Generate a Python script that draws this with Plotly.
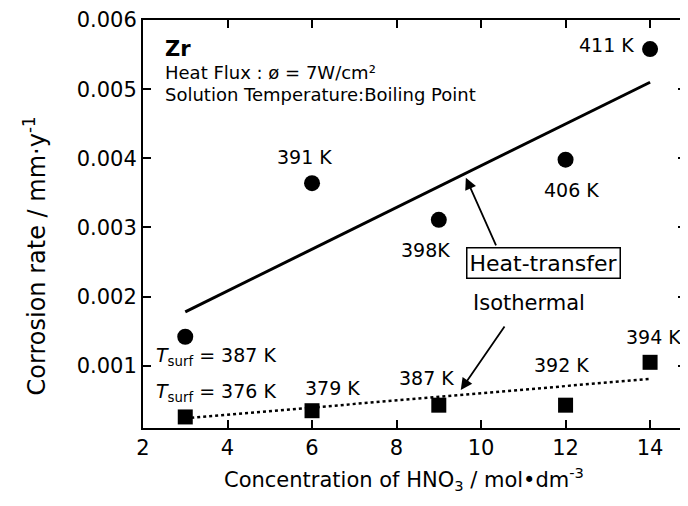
import plotly.graph_objects as go

# heat-transfer (circles) and isothermal (squares) data
conc = [3, 6, 9, 12, 14]
rate_heat = [0.00142, 0.00364, 0.00311, 0.00398, 0.00558]
rate_iso = [0.00026, 0.00035, 0.00043, 0.00043, 0.00105]

fit_x = [3, 14]
fit_heat = [0.00178, 0.0051]
fit_iso = [0.00024, 0.00081]

heat_labels = ["", "391 K", "398K", "406 K", "411 K"]
iso_labels = ["", "379 K", "387 K", "392 K", "394 K"]

# page has an 8px body margin, so the figure is a bit smaller than the window
W, H = 680, 490
L, R, T, B = 135, 0, 12, 70
FONT = "DejaVu Sans"


def px(xp):
    # page pixel -> paper x
    return (xp - 143) / 545


def py(yp):
    # page pixel -> paper y
    return (428 - yp) / 408


fig = go.Figure()

fig.add_trace(go.Scatter(x=fit_x, y=fit_heat, mode='lines',
                         line=dict(color='black', width=3)))
fig.add_trace(go.Scatter(x=fit_x, y=fit_iso, mode='lines',
                         line=dict(color='black', width=2.5, dash='dot')))
fig.add_trace(go.Scatter(x=conc, y=rate_heat, mode='markers',
                         marker=dict(symbol='circle', size=16, color='black')))
fig.add_trace(go.Scatter(x=conc, y=rate_iso, mode='markers',
                         marker=dict(symbol='square', size=15, color='black')))

# point labels (offsets in px)
heat_shift = [(0, 0), (-8, 26), (-13, -30), (6, -30), (-44, 4)]
iso_shift = [(0, 0), (20, 23), (-12, 27), (-4, 40), (3, 25)]
for i in range(len(conc)):
    if heat_labels[i]:
        fig.add_annotation(x=conc[i], y=rate_heat[i], text=heat_labels[i],
                           showarrow=False, xshift=heat_shift[i][0],
                           yshift=heat_shift[i][1], font=dict(size=19))
    if iso_labels[i]:
        fig.add_annotation(x=conc[i], y=rate_iso[i], text=iso_labels[i],
                           showarrow=False, xshift=iso_shift[i][0],
                           yshift=iso_shift[i][1], font=dict(size=19))

fig.add_annotation(x=conc[0], y=rate_heat[0], xanchor='left', xshift=-31, yshift=-20,
                   text="<i>T</i><sub>surf</sub> = 387 K", showarrow=False,
                   font=dict(size=19))
fig.add_annotation(x=conc[0], y=rate_iso[0], xanchor='left', xshift=-31, yshift=24,
                   text="<i>T</i><sub>surf</sub> = 376 K", showarrow=False,
                   font=dict(size=19))

# info text
fig.add_annotation(x=px(163), y=py(49), xref='paper', yref='paper',
                   xanchor='left', yanchor='middle',
                   text="<b>Zr</b>", showarrow=False, font=dict(size=21))
fig.add_annotation(x=px(163), y=py(72), xref='paper', yref='paper',
                   xanchor='left', yanchor='middle',
                   text="Heat Flux : ø = 7W/cm²", showarrow=False, font=dict(size=18))
fig.add_annotation(x=px(163), y=py(94), xref='paper', yref='paper',
                   xanchor='left', yanchor='middle',
                   text="Solution Temperature:Boiling Point", showarrow=False,
                   font=dict(size=18))

# labels with arrows
fig.add_annotation(x=px(545), y=py(263), xref='paper', yref='paper',
                   xanchor='center', yanchor='middle',
                   text="Heat-transfer", showarrow=False, font=dict(size=22),
                   bordercolor='black', borderwidth=1.5, borderpad=2, bgcolor='white')
fig.add_annotation(x=9.64, y=0.00372, ax=10.37, ay=0.00272, axref='x', ayref='y',
                   text="", showarrow=True, arrowhead=2, arrowsize=1.3,
                   arrowwidth=1.8, arrowcolor='black')
fig.add_annotation(x=px(530), y=py(303), xref='paper', yref='paper',
                   xanchor='center', yanchor='middle',
                   text="Isothermal", showarrow=False, font=dict(size=21))
fig.add_annotation(x=9.52, y=0.00065, ax=10.58, ay=0.00159, axref='x', ayref='y',
                   text="", showarrow=True, arrowhead=2, arrowsize=1.3,
                   arrowwidth=1.8, arrowcolor='black')

# axis titles
fig.add_annotation(x=px(35), y=py(256), xref='paper', yref='paper', textangle=-90,
                   xanchor='center', yanchor='middle',
                   text="Corrosion rate / mm·y<sup>-1</sup>", showarrow=False,
                   font=dict(size=24))
fig.add_annotation(x=px(405), y=-0.166, xref='paper', yref='paper',
                   xanchor='center', yanchor='bottom',
                   text="Concentration of HNO<sub>3</sub> / mol•dm<sup>-3</sup>",
                   showarrow=False, font=dict(size=21))

fig.update_layout(
    width=W, height=H,
    margin=dict(l=L, r=R, t=T, b=B),
    paper_bgcolor='white', plot_bgcolor='white',
    showlegend=False,
    font=dict(family=FONT, color='black'),
)
fig.update_xaxes(range=[2, 14.85], tickvals=[2, 4, 6, 8, 10, 12, 14],
                 ticks='inside', ticklen=8, tickwidth=1.5, tickcolor='black',
                 showline=True, linecolor='black', linewidth=2, mirror='allticks',
                 showgrid=False, zeroline=False, tickfont=dict(size=21))
fig.update_yaxes(range=[0.0001, 0.006],
                 tickvals=[0.001, 0.002, 0.003, 0.004, 0.005, 0.006],
                 ticktext=["0.001", "0.002", "0.003", "0.004", "0.005", "0.006"],
                 ticks='inside', ticklen=8, tickwidth=1.5, tickcolor='black',
                 showline=True, linecolor='black', linewidth=2, mirror='allticks',
                 showgrid=False, zeroline=False, tickfont=dict(size=21))

fig.write_html("out.html")
